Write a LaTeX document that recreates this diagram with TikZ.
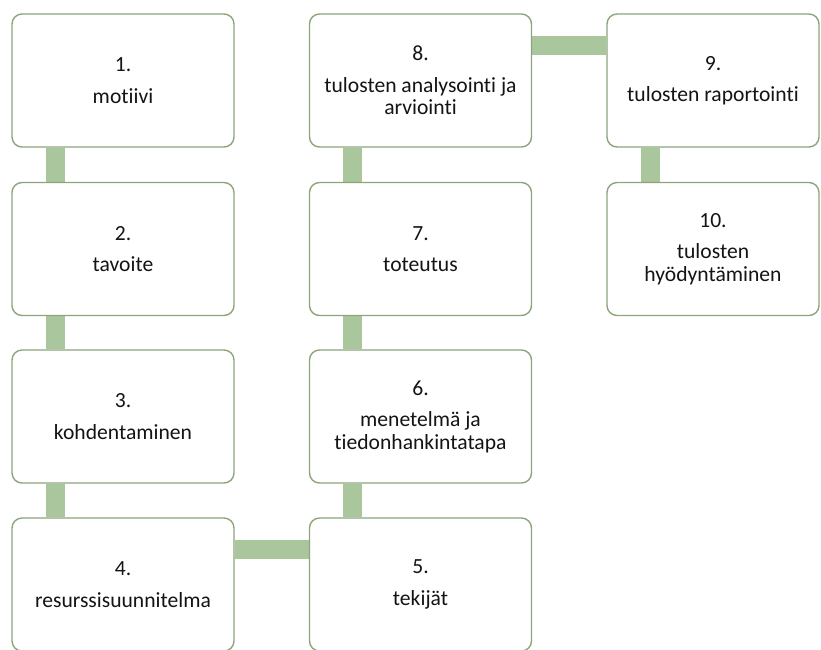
\documentclass[tikz,border=0pt]{standalone}
\usepackage{fontspec}
\setmainfont[Ligatures={NoCommon,NoRare,NoContextual}]{Carlito}
\usetikzlibrary{calc,backgrounds}
\definecolor{boxline}{HTML}{8CA57C}
\definecolor{barfill}{HTML}{AAC69D}
\definecolor{txt}{HTML}{141414}
\tikzset{
  stepbox/.style={draw=boxline, line width=1.4pt, fill=white, rounded corners=10pt,
    rectangle, inner sep=0pt, align=center, text=txt,
    font=\fontsize{21.6}{22.5}\selectfont},
  wide/.style={minimum width=222pt, minimum height=133pt},
  narrow/.style={minimum width=212pt, minimum height=133pt},
  linkbar/.style={draw=barfill, line width=19pt}
}
\newcommand{\numgap}{\\[9pt]}
\begin{document}
\begin{tikzpicture}[x=1pt,y=-1pt]
  \useasboundingbox (0,0) rectangle (821,649);
  % first column
  \node[stepbox,wide] (n1) at (123,80.5) {1.\numgap motiivi};
  \node[stepbox,wide] (n2) at (123,249) {2.\numgap tavoite};
  \node[stepbox,wide] (n3) at (123,416.5) {3.\numgap kohdentaminen};
  \node[stepbox,wide] (n4) at (123,584.5) {4.\numgap resurssisuunnitelma};
  % second column
  \node[stepbox,wide] (n5) at (420.5,584.5) {5.\numgap tekijät};
  \node[stepbox,wide] (n6) at (420.5,416.5) {6.\numgap menetelmä ja\\tiedonhankintatapa};
  \node[stepbox,wide] (n7) at (420.5,249) {7.\numgap toteutus};
  \node[stepbox,wide] (n8) at (420.5,80.5) {8.\numgap tulosten analysointi ja\\arviointi};
  % third column
  \node[stepbox,narrow] (n9) at (713,80.5) {9.\numgap tulosten raportointi};
  \node[stepbox,narrow] (n10) at (713,249) {10.\numgap tulosten\\hyödyntäminen};
  % connecting bars behind the boxes
  \begin{scope}[on background layer]
    \draw[linkbar] ($(n1.south west)+(44,0)$) -- ($(n2.north west)+(44,0)$);
    \draw[linkbar] ($(n2.south west)+(44,0)$) -- ($(n3.north west)+(44,0)$);
    \draw[linkbar] ($(n3.south west)+(44,0)$) -- ($(n4.north west)+(44,0)$);
    \draw[linkbar] ($(n4.north east)+(0,32)$) -- ($(n5.north west)+(0,32)$);
    \draw[linkbar] ($(n5.north west)+(44,0)$) -- ($(n6.south west)+(44,0)$);
    \draw[linkbar] ($(n6.north west)+(44,0)$) -- ($(n7.south west)+(44,0)$);
    \draw[linkbar] ($(n7.north west)+(44,0)$) -- ($(n8.south west)+(44,0)$);
    \draw[linkbar] ($(n8.north east)+(0,32)$) -- ($(n9.north west)+(0,32)$);
    \draw[linkbar] ($(n9.south west)+(44,0)$) -- ($(n10.north west)+(44,0)$);
  \end{scope}
\end{tikzpicture}
\end{document}
